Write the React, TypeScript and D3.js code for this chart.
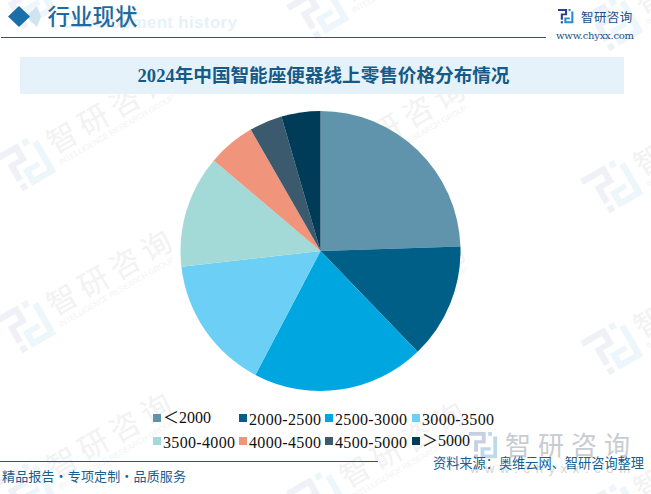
import React from 'react';
import * as d3 from 'd3';

const width = 651;
const height = 494;

const categories = ['＜2000', '2000-2500', '2500-3000', '3000-3500', '3500-4000', '4000-4500', '4500-5000', '＞5000'];
const shares = [24.5, 13.3, 19.9, 15.5, 13.0, 5.5, 3.8, 4.5];
const colors = ['#5f94ac', '#005f87', '#00a6df', '#6ccff6', '#a3d9d6', '#f0957c', '#3b5a6e', '#003c58'];

const legendCols = [153, 239, 325, 412];
const legendRows = [418, 441];

// centres of the repeated background logo
const watermarks: [number, number][] = [
  [25, 3], [25, 165], [25, 327], [25, 490],
  [318, 13], [318, 175], [318, 337], [318, 499],
  [612, 25], [612, 187], [612, 349], [612, 511],
];

// the brand mark, 44x42 in its own units
const Logo = ({ a, b }: { a: string; b: string }) => (
  <g>
    <path d="M0 0H26V18H14V31H8V13H20V6H0Z" fill={a} />
    <rect x="8" y="35" width="6" height="6" fill={a} />
    <rect x="30" y="0" width="6" height="6" fill={b} />
    <path d="M38 7H44V41H18V24H34V29H24V35H38Z" fill={b} />
  </g>
);

const Watermark = ({ x, y }: { x: number; y: number }) => (
  <g transform={`translate(${x},${y}) rotate(-30)`}>
    <g transform="scale(1.08) translate(-22,-21)">
      <Logo a="#eff1f6" b="#edf6fb" />
    </g>
    <text x={31} y={6} fontSize={30} fontFamily="'Noto Sans CJK SC'" fill="#f2f2f2" letterSpacing={6}>智研咨询</text>
    <text x={31} y={18} fontSize={8} fontFamily="'Liberation Sans'" fill="#f3f3f3" textLength={132}>INTELLIGENCE RESEARCH GROUP</text>
  </g>
);

const App = () => {
  const pie = d3.pie<number>().sort(null).value((d) => d);
  const arc = d3.arc<d3.PieArcDatum<number>>().innerRadius(0).outerRadius(140);
  const slices = pie(shares);

  return (
    <svg
      width={width}
      height={height}
      viewBox={`0 0 ${width} ${height}`}
      style={{ position: 'absolute', left: 0, top: 0, background: '#fff' }}
    >
      {watermarks.map(([x, y], i) => (
        <Watermark key={i} x={x} y={y} />
      ))}

      {/* header */}
      <text x={63} y={27.5} fontSize={17} fontWeight="bold" fontFamily="'Liberation Sans'" fill="#e6f2f9" textLength={174}>Development history</text>
      <path d="M26 16.5L37 6L41 16.5L37 27Z" fill="#cfe3f0" />
      <path d="M8 16.5L19 6L30 16.5L19 27Z" fill="#1a6fa8" />
      <text x={47.5} y={24.5} fontSize={22.5} fontFamily="'Noto Sans CJK SC'" fontWeight={500} fill="#1f6a9f">行业现状</text>
      <line x1={1} x2={546} y1={37.5} y2={37.5} stroke="#13608f" strokeWidth={1.2} />
      <g transform="translate(558,9) scale(0.35)">
        <Logo a="#2b3f8f" b="#2a8bd0" />
      </g>
      <text x={581} y={21.5} fontSize={12.5} fontFamily="'Noto Sans CJK SC'" fill="#1c4f86" letterSpacing={0.4}>智研咨询</text>
      <text x={556} y={39} fontSize={10} fontFamily="'DejaVu Serif'" fill="#1c4f86" textLength={78}>www.chyxx.com</text>

      {/* title band */}
      <rect x={20} y={57} width={604} height={37} fill="#e5f2fa" />
      <text x={323.5} y={82} textAnchor="middle" fontSize={18.6} fontWeight="bold" fontFamily="'Liberation Serif','Noto Sans CJK SC'" fill="#165a88">
        2024年中国智能座便器线上零售价格分布情况
      </text>

      <g transform="translate(320.5,251)">
        {slices.map((d, i) => (
          <path key={categories[i]} d={arc(d) ?? ''} fill={colors[i]} />
        ))}
      </g>

      {/* bottom right mark sits under the legend and the source line */}
      <g transform="translate(469,432) scale(0.64)">
        <Logo a="#c6cfe3" b="#bcd9ee" />
      </g>
      <text x={505} y={455} fontSize={26} fontFamily="'Noto Sans CJK SC'" fill="#c8ccd0" letterSpacing={7}>智研咨询</text>
      <text x={470} y={473} fontSize={13} fontFamily="'Liberation Sans'" fill="#d2d5da" textLength={160}>www.chyxx.com</text>

      {categories.map((name, i) => {
        const x = legendCols[i % 4];
        const y = legendRows[Math.floor(i / 4)];
        const wide = name.length > 5;
        return (
          <g key={name}>
            <rect x={x} y={y - 4} width={8} height={8} fill={colors[i]} />
            <text
              x={x + 10}
              y={y + (wide ? 6.5 : 5)}
              fontSize={16}
              fontFamily="'Liberation Serif','Noto Sans CJK SC'"
              fill="#111"
              textLength={wide ? 72 : undefined}
              lengthAdjust="spacing"
            >
              {name}
            </text>
          </g>
        );
      })}

      {/* footer */}
      <line x1={0} x2={378} y1={461.5} y2={461.5} stroke="#13608f" strokeWidth={1.2} />
      <text x={2} y={481} fontSize={13} fontFamily="'Noto Sans CJK SC'" fill="#13608f" textLength={184}>精品报告·专项定制·品质服务</text>
      <text x={644} y={468} textAnchor="end" fontSize={13.2} fontFamily="'Noto Sans CJK SC'" fill="#13608f">资料来源：奥维云网、智研咨询整理</text>
    </svg>
  );
};

export default App;
